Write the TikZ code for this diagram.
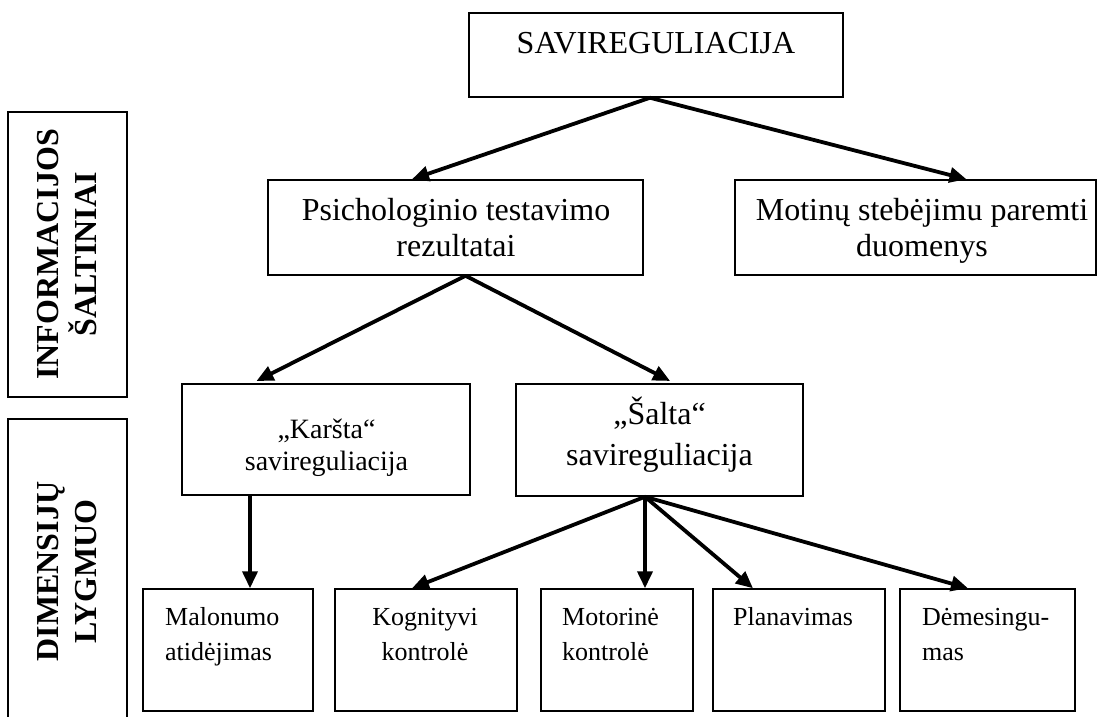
\documentclass[tikz,border=0pt]{standalone}
\usepackage{fontspec}
\setmainfont{Liberation Serif}
\usetikzlibrary{arrows.meta}
\tikzset{
  box/.style={draw, line width=1.5pt, inner sep=0pt, anchor=center},
  conn/.style={line width=3.8pt, -{Triangle[length=17pt,width=15pt]}},
  big/.style={font=\fontsize{32}{36}\selectfont, inner sep=0pt},
  mid/.style={font=\fontsize{28}{32}\selectfont, inner sep=0pt},
  small/.style={font=\fontsize{26}{35}\selectfont, inner sep=0pt},
  side/.style={box, rotate=90, minimum height=119pt, align=center,
    font=\bfseries\fontsize{32}{38}\selectfont},
}
\begin{document}
\begin{tikzpicture}[x=1pt,y=-1pt]
\useasboundingbox (0,0) rectangle (1098,716);
\clip (0,0) rectangle (1098,716);
% side labels
\node[side, minimum width=285pt] (info) at (67.5,254.5) {INFORMACIJOS\\ŠALTINIAI};
\node[side, minimum width=305pt] (dim) at (67.5,571.5) {DIMENSIJŲ\\LYGMUO};
% boxes
\node[box, minimum width=374pt, minimum height=84pt] (sav) at (656,55) {};
\node[box, minimum width=375pt, minimum height=95pt] (psy) at (455.5,227.5) {};
\node[box, minimum width=361pt, minimum height=95pt] (mot) at (915.5,227.5) {};
\node[box, minimum width=288pt, minimum height=111pt] (kar) at (326,439.5) {};
\node[box, minimum width=287pt, minimum height=112pt] (sal) at (659.5,440) {};
\node[box, minimum width=170pt, minimum height=122pt] (mal) at (228,650) {};
\node[box, minimum width=182pt, minimum height=122pt] (kog) at (426,650) {};
\node[box, minimum width=152pt, minimum height=122pt] (motr) at (617,650) {};
\node[box, minimum width=172pt, minimum height=122pt] (plan) at (799,650) {};
\node[box, minimum width=175pt, minimum height=122pt] (dem) at (987.5,650) {};
% texts (base anchor = baseline of the last line)
\node[big, anchor=base] (savt) at (656,53) {SAVIREGULIACIJA};
\node[big, anchor=base, align=center] (psyt) at (456,256) {Psichologinio testavimo\\rezultatai};
\node[big, anchor=base, align=center] (mott) at (922,256) {Motinų stebėjimu paremti\\duomenys};
\node[mid, anchor=base, align=center] (kart) at (326.5,470) {„Karšta“\\savireguliacija};
\node[font=\fontsize{32}{41}\selectfont, inner sep=0pt, anchor=base, align=center] (salt) at (659.5,465) {„Šalta“\\savireguliacija};
\node[small, anchor=base west, align=left] (malt) at (165,660) {Malonumo\\atidėjimas};
\node[small, anchor=base, align=center] (kogt) at (425,660) {Kognityvi\\kontrolė};
\node[small, anchor=base west, align=left] (motrt) at (562,660) {Motorinė\\kontrolė};
\node[small, anchor=base west, align=left] (plant) at (733,625) {Planavimas};
\node[small, anchor=base west, align=left] (demt) at (922,660) {Dėmesingu-\\mas};
% connectors
\draw[conn] ([xshift=-6pt]sav.south) -- ([xshift=-43.5pt]psy.north);
\draw[conn] ([xshift=-6pt]sav.south) -- ([xshift=51pt]mot.north);
\draw[conn, shorten >=5pt] ([xshift=10pt]psy.south) -- ([xshift=-74pt]kar.north);
\draw[conn, shorten >=5pt] ([xshift=10pt]psy.south) -- ([xshift=15pt]sal.north);
\draw[conn] ([xshift=-76pt]kar.south) -- ([xshift=22pt]mal.north);
\draw[conn] ([xshift=-14.5pt]sal.south) -- ([xshift=-14pt]kog.north);
\draw[conn] ([xshift=-14.5pt]sal.south) -- ([xshift=28pt]motr.north);
\draw[conn] ([xshift=-14.5pt]sal.south) -- ([xshift=-46pt]plan.north);
\draw[conn] ([xshift=-14.5pt]sal.south) -- ([xshift=-19.5pt]dem.north);
\end{tikzpicture}
\end{document}
